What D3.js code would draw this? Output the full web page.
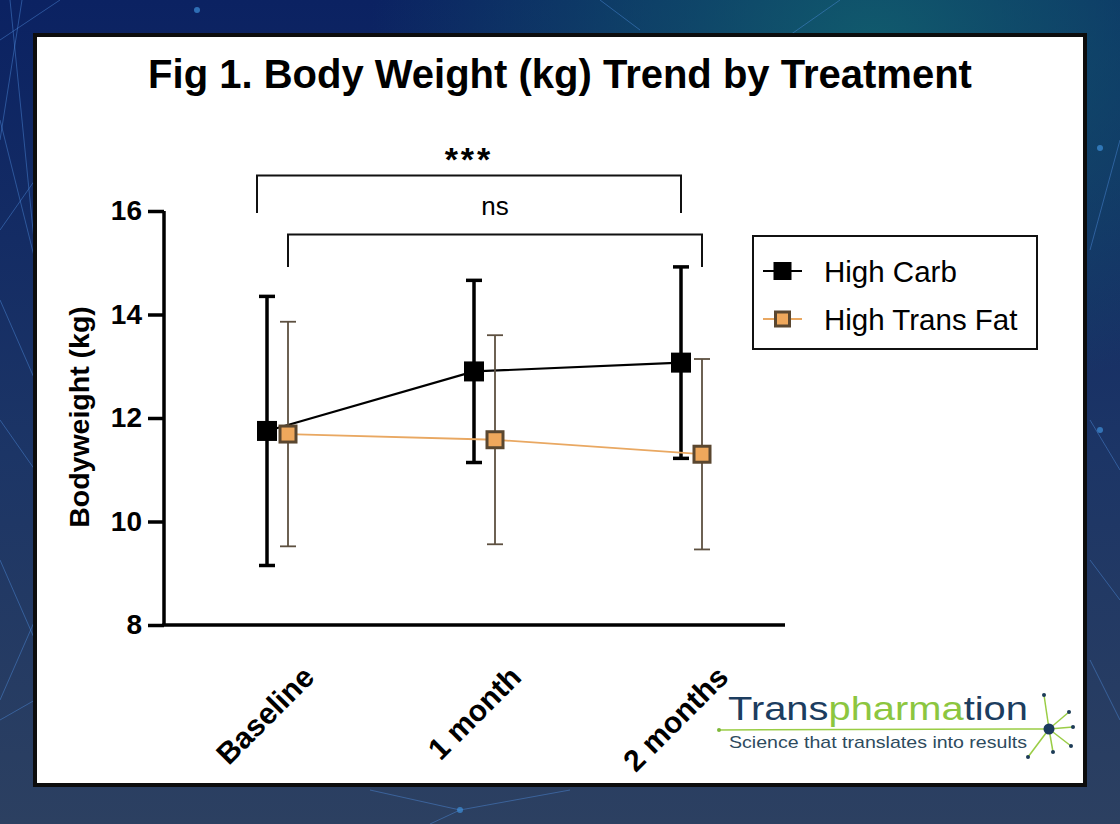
<!DOCTYPE html>
<html>
<head>
<meta charset="utf-8">
<script src="https://cdn.jsdelivr.net/npm/d3@7"></script>
<style>
  html, body { margin: 0; padding: 0; background: #1a3160; }
  svg { display: block; }
  text { font-family: "Liberation Sans", Arial, Helvetica, sans-serif; }
</style>
</head>
<body>
<svg id="chart" width="1120" height="824"></svg>
<script>
// values
var categories = ["Baseline", "1 month", "2 months"];
var seriesNames = ["High Carb", "High Trans Fat"];
var carbMean = [11.75, 12.90, 13.07];
var carbErr = [2.60, 1.76, 1.85];
var fatMean = [11.69, 11.58, 11.30];
var fatErr = [2.17, 2.02, 1.84];
var yTicks = [8, 10, 12, 14, 16];
// significance brackets: from / to category index
var comparisons = [
  {from: 0, to: 2, label: "***", level: 0},
  {from: 0, to: 2, label: "ns", level: 1}
];

var W = 1120, H = 824;
var svg = d3.select("#chart");

///////////////////////////////////////////////////////////////////////////////
// Background
///////////////////////////////////////////////////////////////////////////////

var defs = svg.append("defs");
var bg = defs.append("linearGradient").attr("id", "bg")
  .attr("x1", 0).attr("y1", 0).attr("x2", 0).attr("y2", 1);
bg.append("stop").attr("offset", "0%").attr("stop-color", "#0b2262");
bg.append("stop").attr("offset", "55%").attr("stop-color", "#1c3566");
bg.append("stop").attr("offset", "100%").attr("stop-color", "#2c4061");

var glow = defs.append("radialGradient").attr("id", "glow")
  .attr("cx", 0.78).attr("cy", 0.05).attr("r", 0.45);
glow.append("stop").attr("offset", "0%").attr("stop-color", "#11606e").attr("stop-opacity", 0.9);
glow.append("stop").attr("offset", "100%").attr("stop-color", "#11606e").attr("stop-opacity", 0);

svg.append("rect").attr("width", W).attr("height", H).attr("fill", "url(#bg)");
svg.append("rect").attr("width", W).attr("height", H).attr("fill", "url(#glow)");

// faint network lines, just decoration
var net = [
  [[0, 40], [60, 0]], [[0, 120], [35, 260]], [[10, 0], [40, 300]], [[0, 300], [35, 380]],
  [[0, 230], [35, 180]], [[22, 0], [0, 140]], [[0, 420], [35, 470]],
  [[0, 560], [35, 640]], [[0, 700], [35, 620]], [[0, 720], [35, 700]],
  [[600, 0], [640, 30]], [[840, 0], [790, 35]], [[1090, 250], [1120, 140]],
  [[1090, 560], [1120, 600]], [[370, 790], [460, 810]], [[460, 810], [570, 790]],
  [[430, 824], [460, 810]], [[1090, 420], [1120, 470]], [[1090, 660], [1120, 720]]
];
svg.append("g").selectAll("line").data(net).join("line")
  .attr("x1", function (d) { return d[0][0]; })
  .attr("y1", function (d) { return d[0][1]; })
  .attr("x2", function (d) { return d[1][0]; })
  .attr("y2", function (d) { return d[1][1]; })
  .attr("stroke", "#4f8fe0").attr("stroke-opacity", 0.45).attr("stroke-width", 1);
svg.append("g").selectAll("circle").data([[197, 10], [460, 810], [1100, 148], [1100, 430]]).join("circle")
  .attr("cx", function (d) { return d[0]; }).attr("cy", function (d) { return d[1]; })
  .attr("r", 3).attr("fill", "#3d8fd8").attr("opacity", 0.7);

// white panel
svg.append("rect")
  .attr("x", 35).attr("y", 35).attr("width", 1050).attr("height", 750)
  .attr("fill", "#fff").attr("stroke", "#0d0d0d").attr("stroke-width", 4);

///////////////////////////////////////////////////////////////////////////////
// Scales and axes
///////////////////////////////////////////////////////////////////////////////

var plotLeft = 164, plotRight = 785, plotTop = 211, plotBottom = 625;
var dodge = 10.5;

var y = d3.scaleLinear().domain([8, 16]).range([plotBottom, plotTop]);
var x = d3.scalePoint().domain(categories).range([277.5, 691.5]);

svg.append("text")
  .attr("x", 560).attr("y", 88)
  .attr("text-anchor", "middle")
  .attr("font-size", 40).attr("font-weight", "bold")
  .text("Fig 1. Body Weight (kg) Trend by Treatment");

var yAxis = svg.append("g")
  .attr("transform", "translate(" + plotLeft + ",0)")
  .call(d3.axisLeft(y).tickValues(yTicks).tickSize(16).tickPadding(6).tickFormat(d3.format("d")));
yAxis.select(".domain").attr("stroke-width", 3.5).attr("d", "M0," + plotTop + "V" + plotBottom);
yAxis.selectAll(".tick line").attr("stroke-width", 3.5);
yAxis.selectAll(".tick text")
  .attr("font-size", 28).attr("font-weight", "bold").attr("fill", "#000")
  .attr("font-family", "Liberation Sans, Arial, sans-serif");

var xAxis = svg.append("g")
  .attr("transform", "translate(0," + plotBottom + ")")
  .call(d3.axisBottom(x).tickSize(0).tickPadding(0));
xAxis.select(".domain").attr("stroke-width", 3.5).attr("d", "M" + (plotLeft - 1.75) + ",0H" + plotRight);
xAxis.selectAll(".tick text")
  .attr("font-size", 30).attr("font-weight", "bold").attr("fill", "#000")
  .attr("font-family", "Liberation Sans, Arial, sans-serif")
  .attr("text-anchor", "end")
  .attr("dy", 0)
  .attr("transform", "translate(38,54) rotate(-45)");

svg.append("text")
  .attr("transform", "translate(89,417) rotate(-90)")
  .attr("text-anchor", "middle")
  .attr("font-size", 28.5).attr("font-weight", "bold")
  .text("Bodyweight (kg)");

///////////////////////////////////////////////////////////////////////////////
// Series
///////////////////////////////////////////////////////////////////////////////

var series = [
  {name: seriesNames[0], mean: carbMean, err: carbErr, off: -dodge,
   line: "#000", lineW: 2.2, bar: "#000", barW: 3.5, fill: "#000", stroke: "#000", size: 20},
  {name: seriesNames[1], mean: fatMean, err: fatErr, off: dodge,
   line: "#e9a862", lineW: 1.8, bar: "#5d5040", barW: 1.8, fill: "#efa85c", stroke: "#5a4730", size: 16}
];

series.forEach(function (s) {
  var pts = categories.map(function (c, i) {
    return {x: x(c) + s.off, m: s.mean[i], e: s.err[i]};
  });
  var g = svg.append("g");

  g.append("path")
    .datum(pts)
    .attr("fill", "none").attr("stroke", s.line).attr("stroke-width", s.lineW)
    .attr("d", d3.line().x(function (d) { return d.x; }).y(function (d) { return y(d.m); }));

  g.selectAll("line.bar").data(pts).join("line").attr("class", "bar")
    .attr("x1", function (d) { return d.x; }).attr("x2", function (d) { return d.x; })
    .attr("y1", function (d) { return y(d.m + d.e); })
    .attr("y2", function (d) { return y(d.m - d.e); })
    .attr("stroke", s.bar).attr("stroke-width", s.barW);

  ["hi", "lo"].forEach(function (end) {
    g.selectAll("line.cap" + end).data(pts).join("line")
      .attr("class", "cap" + end)
      .attr("x1", function (d) { return d.x - 8; }).attr("x2", function (d) { return d.x + 8; })
      .attr("y1", function (d) { return y(end === "hi" ? d.m + d.e : d.m - d.e); })
      .attr("y2", function (d) { return y(end === "hi" ? d.m + d.e : d.m - d.e); })
      .attr("stroke", s.bar).attr("stroke-width", s.barW);
  });

  g.selectAll("rect").data(pts).join("rect")
    .attr("x", function (d) { return d.x - s.size / 2; })
    .attr("y", function (d) { return y(d.m) - s.size / 2; })
    .attr("width", s.size).attr("height", s.size)
    .attr("fill", s.fill).attr("stroke", s.stroke)
    .attr("stroke-width", s === series[0] ? 0 : 3);
});

///////////////////////////////////////////////////////////////////////////////
// Significance brackets
///////////////////////////////////////////////////////////////////////////////

var brk = svg.append("g");
comparisons.forEach(function (c) {
  // level 0 sits on the black points (left leg a bit further out), level 1 on the orange ones
  var x1 = c.level === 0 ? x(categories[c.from]) - dodge - 10 : x(categories[c.from]) + dodge;
  var x2 = c.level === 0 ? x(categories[c.to]) - dodge : x(categories[c.to]) + dodge;
  var top = c.level === 0 ? 175.5 : 234.5;
  var bottom = c.level === 0 ? 213 : 267;
  brk.append("path")
    .attr("d", "M" + x1 + "," + bottom + "V" + top + "H" + x2 + "V" + bottom)
    .attr("fill", "none").attr("stroke", "#111").attr("stroke-width", 2);
  brk.append("text")
    .attr("x", (x1 + x2) / 2).attr("y", c.level === 0 ? 171 : 215)
    .attr("text-anchor", "middle")
    .attr("font-size", c.level === 0 ? 34 : 26)
    .attr("font-weight", c.level === 0 ? "bold" : "normal")
    .attr("letter-spacing", c.level === 0 ? 3 : 0)
    .text(c.label);
});

///////////////////////////////////////////////////////////////////////////////
// Legend
///////////////////////////////////////////////////////////////////////////////

var legend = svg.append("g");
legend.append("rect")
  .attr("x", 753).attr("y", 236).attr("width", 284).attr("height", 113)
  .attr("fill", "#fff").attr("stroke", "#111").attr("stroke-width", 2);

series.forEach(function (s, i) {
  var ly = 271 + i * 48;
  legend.append("line")
    .attr("x1", 763).attr("x2", 802).attr("y1", ly).attr("y2", ly)
    .attr("stroke", s.line).attr("stroke-width", s.lineW);
  var sz = i === 0 ? 18 : 14;
  legend.append("rect")
    .attr("x", 782.5 - sz / 2).attr("y", ly - sz / 2).attr("width", sz).attr("height", sz)
    .attr("fill", s.fill).attr("stroke", s.stroke).attr("stroke-width", i === 0 ? 0 : 3);
  legend.append("text")
    .attr("x", 824).attr("y", ly).attr("dy", "0.36em")
    .attr("font-size", 29.5)
    .text(s.name);
});

///////////////////////////////////////////////////////////////////////////////
// Logo
///////////////////////////////////////////////////////////////////////////////

var logo = svg.append("g");
var cx = 1049, cy = 729;
logo.append("line").attr("x1", 719).attr("x2", cx).attr("y1", cy + 1).attr("y2", cy)
  .attr("stroke", "#9acd45").attr("stroke-width", 1.5);
logo.append("circle").attr("cx", 719).attr("cy", cy + 1).attr("r", 2).attr("fill", "#7fb83a");
var rays = [[1044, 695], [1069, 712], [1073, 727], [1071, 746], [1053, 752], [1028, 757]];
rays.forEach(function (r) {
  logo.append("line").attr("x1", cx).attr("y1", cy).attr("x2", r[0]).attr("y2", r[1])
    .attr("stroke", "#9acd45").attr("stroke-width", 1.5);
  logo.append("circle").attr("cx", r[0]).attr("cy", r[1]).attr("r", 2).attr("fill", "#1d3b57");
});
logo.append("circle").attr("cx", cx).attr("cy", cy).attr("r", 5.5).attr("fill", "#1b3a5e");

var brand = logo.append("text")
  .attr("x", 728).attr("y", 720)
  .attr("font-size", 33).attr("font-weight", 300)
  .attr("font-family", "Open Sans, Lato, sans-serif")
  .attr("textLength", 300).attr("lengthAdjust", "spacingAndGlyphs");
brand.append("tspan").attr("fill", "#1c3d5f").text("Trans");
brand.append("tspan").attr("fill", "#8cc63f").text("pharma");
brand.append("tspan").attr("fill", "#1c3d5f").text("tion");

logo.append("text")
  .attr("x", 729).attr("y", 748)
  .attr("font-size", 17).attr("fill", "#2e4b5e")
  .attr("font-family", "Open Sans, Lato, sans-serif")
  .attr("textLength", 298).attr("lengthAdjust", "spacingAndGlyphs")
  .text("Science that translates into results");
</script>
</body>
</html>
